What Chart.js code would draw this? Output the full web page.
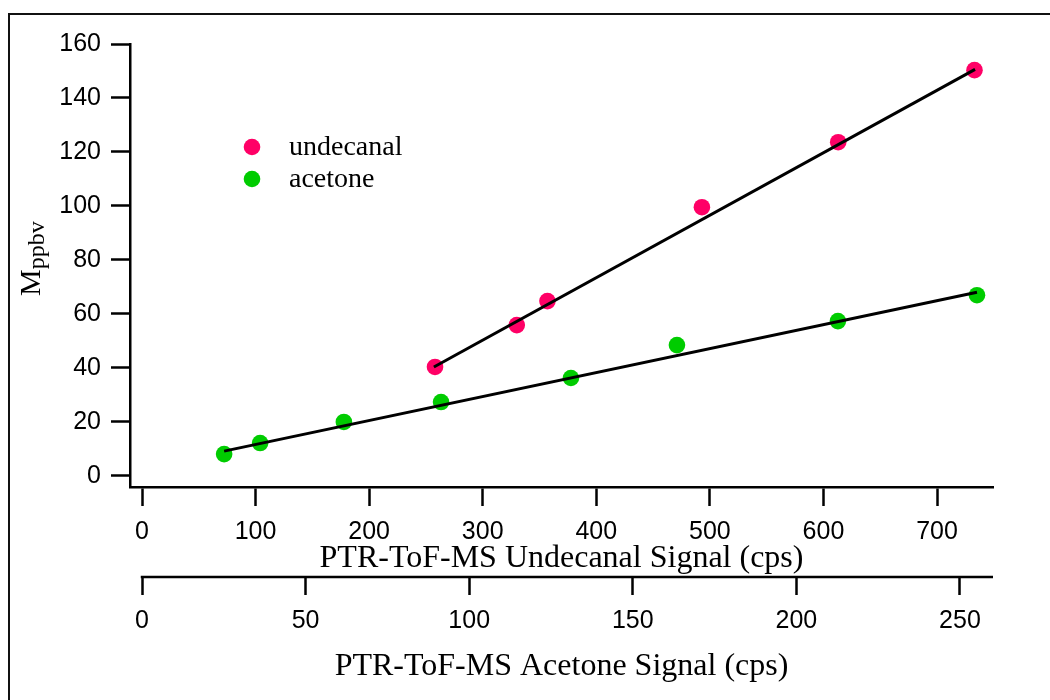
<!DOCTYPE html>
<html>
<head>
<meta charset="utf-8">
<script src="https://cdn.jsdelivr.net/npm/chart.js@4"></script>
<style>
  body { margin: 0; background: #fff; }
  .wrap { position: relative; width: 1050px; height: 700px; }
  .frame { position: absolute; left: 8px; top: 13px; width: 1100px; height: 800px;
           border-left: 2px solid #111; border-top: 2px solid #111; pointer-events: none; }
</style>
</head>
<body>
<div class="wrap">
  <canvas id="calChart" width="1050" height="700"></canvas>
  <div class="frame"></div>
</div>
<script>
// calibration points
const undecanalX = [258, 330, 357, 493, 613, 733];
const undecanalY = [40.3, 55.8, 64.7, 99.5, 123.6, 150.3];
const acetoneX = [25.1, 36.1, 61.7, 91.4, 131.1, 163.5, 212.7, 255.2];
const acetoneY = [8.0, 12.1, 19.9, 27.3, 36.2, 48.4, 57.3, 66.9];

// fitted lines (end points)
const undecanalFitX = [257, 733.5];
const undecanalFitY = [40.3, 150.6];
const acetoneFitX = [25.1, 255.2];
const acetoneFitY = [9.1, 68.0];

const yTicks = [0, 20, 40, 60, 80, 100, 120, 140, 160];
const undecanalTicks = [0, 100, 200, 300, 400, 500, 600, 700];
const acetoneTicks = [0, 50, 100, 150, 200, 250];

const red = "#ff0066";
const green = "#00cc00";

function toPoints(xs, ys) {
  return xs.map((x, i) => ({ x: x, y: ys[i] }));
}

Chart.defaults.font.family = "'Liberation Sans', Arial, sans-serif";
Chart.defaults.color = "#000";

const tickFont = { family: "'Liberation Sans', Arial, sans-serif", size: 25 };
const titleFont = { family: "'Liberation Serif', serif", size: 32, lineHeight: 1 };

function axisGrid() {
  return {
    display: true,
    drawOnChartArea: false,
    drawTicks: true,
    tickLength: 19,
    tickWidth: 2.5,
    tickColor: "#000",
  };
}

// y title with subscript, plus legend inside the plot
const extras = {
  id: "extras",
  afterDraw(chart) {
    const ctx = chart.ctx;
    ctx.save();
    ctx.fillStyle = "#000";
    ctx.translate(40, 296);
    ctx.rotate(-Math.PI / 2);
    ctx.textBaseline = "alphabetic";
    ctx.textAlign = "left";
    ctx.font = "30px 'Liberation Serif'";
    ctx.fillText("M", 0, 0);
    const w = ctx.measureText("M").width;
    ctx.font = "24px 'Liberation Serif'";
    ctx.fillText("ppbv", w, 4);
    ctx.restore();

    // second x axis line starts at 0
    const x2 = chart.scales.x2;
    ctx.save();
    ctx.strokeStyle = "#000";
    ctx.lineWidth = 2.5;
    ctx.beginPath();
    ctx.moveTo(x2.getPixelForValue(0) - 1.25, x2.top + 1);
    ctx.lineTo(x2.right, x2.top + 1);
    ctx.stroke();
    ctx.restore();

    // legend
    const items = chart.data.datasets.filter((d) => d.inLegend);
    ctx.save();
    ctx.font = "28px 'Liberation Serif'";
    ctx.textBaseline = "alphabetic";
    items.forEach((d, i) => {
      const cy = 147 + i * 32;
      ctx.fillStyle = d.backgroundColor;
      ctx.beginPath();
      ctx.arc(252, cy, 8.3, 0, Math.PI * 2);
      ctx.fill();
      ctx.fillStyle = "#000";
      ctx.fillText(d.label, 289, cy + 8);
    });
    ctx.restore();
  },
};

new Chart(document.getElementById("calChart"), {
  type: "scatter",
  data: {
    datasets: [
      {
        label: "undecanal",
        inLegend: true,
        data: toPoints(undecanalX, undecanalY),
        xAxisID: "x",
        backgroundColor: red,
        borderWidth: 0,
        pointRadius: 8.3,
        order: 2,
      },
      {
        label: "acetone",
        inLegend: true,
        data: toPoints(acetoneX, acetoneY),
        xAxisID: "x2",
        backgroundColor: green,
        borderWidth: 0,
        pointRadius: 8.3,
        order: 2,
      },
      {
        label: "undecanal fit",
        data: toPoints(undecanalFitX, undecanalFitY),
        xAxisID: "x",
        showLine: true,
        borderColor: "#000",
        borderWidth: 3,
        pointRadius: 0,
        order: 1,
      },
      {
        label: "acetone fit",
        data: toPoints(acetoneFitX, acetoneFitY),
        xAxisID: "x2",
        showLine: true,
        borderColor: "#000",
        borderWidth: 3,
        pointRadius: 0,
        order: 1,
      },
    ],
  },
  options: {
    responsive: false,
    animation: false,
    layout: { padding: { top: 44, right: 57, left: 0, bottom: 14 } },
    plugins: { legend: { display: false }, tooltip: { enabled: false } },
    scales: {
      y: {
        type: "linear",
        position: "left",
        min: -4.2,
        max: 160,
        afterBuildTicks: (scale) => { scale.ticks = yTicks.map((v) => ({ value: v })); },
        afterFit: (scale) => { scale.width = 130; },
        grid: axisGrid(),
        border: { display: true, color: "#000", width: 2.5 },
        ticks: { font: tickFont, color: "#000", padding: 10 },
      },
      x: {
        type: "linear",
        position: "bottom",
        weight: 0,
        min: -10.57,
        max: 749.3,
        afterBuildTicks: (scale) => { scale.ticks = undecanalTicks.map((v) => ({ value: v })); },
        afterFit: (scale) => { scale.height = 89; },
        grid: axisGrid(),
        border: { display: true, color: "#000", width: 2.5 },
        ticks: { font: tickFont, color: "#000", padding: 11, maxRotation: 0, autoSkip: false },
        title: {
          display: true,
          text: "PTR-ToF-MS Undecanal Signal (cps)",
          font: titleFont,
          color: "#000",
          padding: { top: 0, bottom: 1 },
        },
      },
      x2: {
        type: "linear",
        position: "bottom",
        weight: 1,
        min: -3.67,
        max: 260.1,
        afterBuildTicks: (scale) => { scale.ticks = acetoneTicks.map((v) => ({ value: v })); },
        afterFit: (scale) => { scale.height = 110; },
        grid: axisGrid(),
        border: { display: false },
        ticks: { font: tickFont, color: "#000", padding: 11, maxRotation: 0, autoSkip: false },
        title: {
          display: true,
          text: "PTR-ToF-MS Acetone Signal (cps)",
          font: titleFont,
          color: "#000",
          padding: { top: 0, bottom: 3 },
        },
      },
    },
  },
  plugins: [extras],
});
</script>
</body>
</html>
